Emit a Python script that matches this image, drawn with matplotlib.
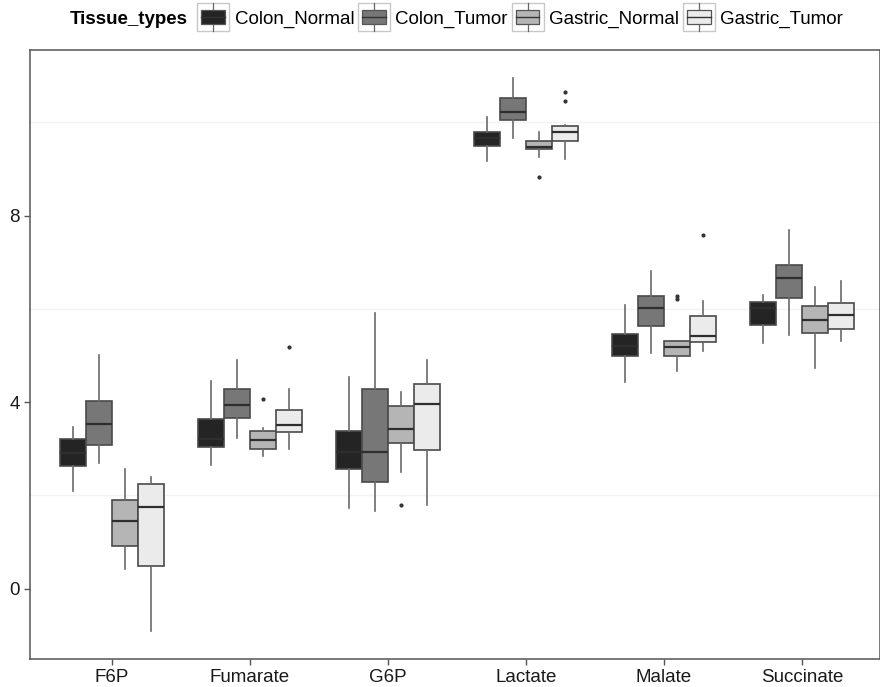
import matplotlib.pyplot as plt
from matplotlib.legend_handler import HandlerBase
from matplotlib.patches import Rectangle
from matplotlib.lines import Line2D

plt.rcParams['font.family'] = ['Liberation Sans', 'DejaVu Sans']

metabolites = ['F6P', 'Fumarate', 'G6P', 'Lactate', 'Malate', 'Succinate']
tissue_types = ['Colon_Normal', 'Colon_Tumor', 'Gastric_Normal', 'Gastric_Tumor']
fill_colors = ['#242424', '#777777', '#b5b5b5', '#ebebeb']

# five-number summaries per tissue type, one value per metabolite
whis_lo = {
    'Colon_Normal':   [2.10, 2.65, 1.72, 9.18, 4.44, 5.27],
    'Colon_Tumor':    [2.70, 3.22, 1.67, 9.67, 5.05, 5.44],
    'Gastric_Normal': [0.41, 2.84, 2.49, 9.25, 4.66, 4.74],
    'Gastric_Tumor':  [-0.92, 2.99, 1.80, 9.21, 5.09, 5.32],
}
q1 = {
    'Colon_Normal':   [2.63, 3.03, 2.56, 9.50, 4.99, 5.65],
    'Colon_Tumor':    [3.07, 3.65, 2.28, 10.04, 5.64, 6.24],
    'Gastric_Normal': [0.92, 2.99, 3.13, 9.42, 4.99, 5.49],
    'Gastric_Tumor':  [0.49, 3.36, 2.97, 9.60, 5.29, 5.56],
}
median = {
    'Colon_Normal':   [2.91, 3.20, 2.93, 9.66, 5.20, 6.02],
    'Colon_Tumor':    [3.53, 3.93, 2.92, 10.23, 6.01, 6.67],
    'Gastric_Normal': [1.46, 3.18, 3.42, 9.48, 5.19, 5.76],
    'Gastric_Tumor':  [1.74, 3.50, 3.95, 9.79, 5.41, 5.86],
}
q3 = {
    'Colon_Normal':   [3.20, 3.63, 3.38, 9.80, 5.46, 6.15],
    'Colon_Tumor':    [4.03, 4.27, 4.27, 10.51, 6.27, 6.94],
    'Gastric_Normal': [1.90, 3.38, 3.92, 9.59, 5.30, 6.07],
    'Gastric_Tumor':  [2.24, 3.84, 4.39, 9.92, 5.85, 6.12],
}
whis_hi = {
    'Colon_Normal':   [3.47, 4.46, 4.53, 10.12, 6.09, 6.29],
    'Colon_Tumor':    [5.02, 4.90, 5.90, 10.96, 6.80, 7.70],
    'Gastric_Normal': [2.56, 3.45, 4.21, 9.80, 5.32, 6.46],
    'Gastric_Tumor':  [2.40, 4.28, 4.91, 9.95, 6.17, 6.60],
}
outliers = {
    'Colon_Normal':   [[], [], [], [], [], []],
    'Colon_Tumor':    [[], [], [], [], [], []],
    'Gastric_Normal': [[], [4.06], [1.79], [8.83], [6.27, 6.21], []],
    'Gastric_Tumor':  [[], [5.19], [], [10.64, 10.46], [7.58], []],
}


class BoxKeyHandler(HandlerBase):
    # legend key: light framed square with a small boxplot glyph inside
    def create_artists(self, legend, orig_handle, xdescent, ydescent,
                       width, height, fontsize, trans):
        x0, y0 = -xdescent, -ydescent
        frame = Rectangle((x0, y0 - 4), width, height + 8, facecolor='white',
                          edgecolor='#c8c8c8', lw=1.0, transform=trans)
        bx = Rectangle((x0 + 3, y0 + 1), width - 6, height - 2,
                       facecolor=orig_handle.get_facecolor(),
                       edgecolor='#555555', lw=0.9, transform=trans)
        mid = y0 + height / 2
        med = Line2D([x0 + 3, x0 + width - 3], [mid, mid], color='#333333',
                     lw=1.0, transform=trans)
        cx = x0 + width / 2
        w1 = Line2D([cx, cx], [y0 - 4, y0 + 1], color='#666666', lw=0.9,
                    transform=trans)
        w2 = Line2D([cx, cx], [y0 + height - 1, y0 + height + 4],
                    color='#666666', lw=0.9, transform=trans)
        return [frame, w1, w2, bx, med]


fig = plt.figure(figsize=(8.8, 6.87), dpi=100)
ax = fig.add_axes([30 / 880, 28 / 687, 850 / 880, 609 / 687])

width = 0.1875
offsets = [-1.5 * width, -0.5 * width, 0.5 * width, 1.5 * width]

for g, (tissue, col) in enumerate(zip(tissue_types, fill_colors)):
    stats = []
    for i in range(len(metabolites)):
        stats.append({
            'whislo': whis_lo[tissue][i], 'q1': q1[tissue][i],
            'med': median[tissue][i], 'q3': q3[tissue][i],
            'whishi': whis_hi[tissue][i], 'fliers': outliers[tissue][i],
        })
    positions = [i + 1 + offsets[g] for i in range(len(metabolites))]
    ax.bxp(stats, positions=positions, widths=width, patch_artist=True,
           showcaps=False, manage_ticks=False,
           boxprops=dict(facecolor=col, edgecolor='#4a4a4a', linewidth=1.2),
           medianprops=dict(color='#2e2e2e', linewidth=1.6),
           whiskerprops=dict(color='#6a6a6a', linewidth=1.2),
           flierprops=dict(marker='o', markersize=2, markerfacecolor='#333333',
                           markeredgecolor='#333333'))

ax.set_xlim(0.406, 0.406 + 850 / 138)
ax.set_ylim(-1.51, 11.55)
ax.set_xticks(range(1, len(metabolites) + 1))
ax.set_xticklabels(metabolites)
ax.set_yticks([0, 4, 8])
ax.set_yticks([2, 6, 10], minor=True)
ax.yaxis.grid(True, which='minor', color='#f3f3f3', linewidth=1.0)
ax.set_axisbelow(True)
ax.tick_params(axis='both', which='major', length=4, width=1.0,
               color='#555555', labelsize=13.5, labelcolor='#1a1a1a')
ax.tick_params(axis='y', which='minor', length=0)
for side in ['left', 'bottom', 'top', 'right']:
    ax.spines[side].set_color('#555555')
    ax.spines[side].set_linewidth(1.1)

handles = [Rectangle((0, 0), 1, 1, facecolor=c) for c in fill_colors]
fig.text(70 / 880, 1 - 18 / 687, 'Tissue_types', fontsize=13.5,
         fontweight='bold', va='center_baseline', ha='left')
fig.legend(handles, tissue_types, loc='center left',
           bbox_to_anchor=(197 / 880, 1 - 18 / 687), ncol=4, frameon=False,
           fontsize=13.5, handler_map={Rectangle: BoxKeyHandler()},
           handlelength=1.7, handleheight=1.0, handletextpad=0.3,
           columnspacing=0.2, borderaxespad=0, borderpad=0)

fig.savefig('out.png', dpi=100)
